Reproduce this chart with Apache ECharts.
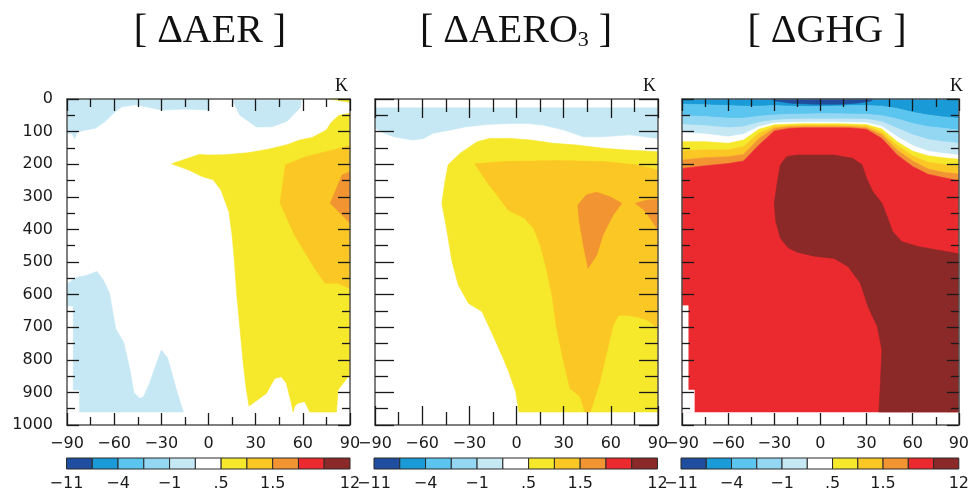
<!DOCTYPE html>
<html><head><meta charset="utf-8">
<script src="https://cdn.jsdelivr.net/npm/echarts@6/dist/echarts.min.js"></script>
<style>html,body{margin:0;padding:0;background:#fff}#c{width:972px;height:492px}</style>
</head><body><div id="c"></div>
<script>
// ---------- colour classes (colour-bar order) ----------
const classColors = ['#1f4e9e','#1a9ad6','#5cc5ef','#93d7f3','#c6e8f4','#ffffff','#f6e82a','#fbc724','#f19431','#eb2a2f','#8a2927'];
const colorbarClasses = [0,1,2,3,4,5,6,7,8,9,10];
const colorbarLabels = {0:'\u221211', 2:'\u22124', 4:'\u22121', 6:'.5', 8:'1.5', 11:'12'};
const panelTitles = ['[ \u0394AER ]', '[ \u0394AERO', '[ \u0394GHG ]'];
const unitLabel = 'K';

// ---------- [ΔAER] contour regions: [latitude, hPa] ----------
const aerBlueUpper = [[-90,0],[0.5,0],[0.5,34],[-15,31],[-29.5,34],[-40,24],[-46.5,18],[-55,24],[-58,34],[-61.5,49],[-66,70],[-72,90],[-78,95],[-83.5,102],[-85,121],[-87,105],[-90,105]];
const aerBlueUpperNH = [[16,4],[59,4],[58.5,26],[50,68],[40.5,85],[30.5,86],[20,50],[16,12]];
const aerYellowCap = [[76.5,0],[90,0],[90,10]];
const aerYellow = [[90,44],[83,50],[78,72],[75,95],[66,118],[58,126],[50,140],[38,154],[25,165],[10,171],[0,172],[-6,170],[-23.5,199],[-12.5,218],[-4,238],[3,248],[8,280],[13,346],[15,417],[16.5,499],[18,601],[20,703],[22,806],[24,890],[25.8,942],[28.3,933],[36.8,903],[42.1,857],[46.4,852],[49.5,872],[52.7,933],[53.8,960],[54.8,943],[56.9,933],[61.2,928],[64.4,960],[81.4,960],[82.4,893],[90,844]];
const aerGold = [[90,143],[76,160],[62,177],[49,202],[45.5,318],[54.5,415],[61,468],[67,515],[74,565],[82,565],[90,581]];
const aerOrange = [[90,223],[85,233],[77.5,320],[90,381]];
const aerBlueLower = [[-90,568],[-85,549],[-77,540],[-71,529],[-67,555],[-63,595],[-59,705],[-54,746],[-50,830],[-47.5,900],[-44,918],[-41.5,915],[-37.5,872],[-33,810],[-30,770],[-26,795],[-20.5,890],[-16,960],[-82,960],[-82,893],[-86,893],[-86,635],[-90,635]];

// ---------- [ΔAERO3] contour regions ----------
const aero3Blue = [[-90,27],[90,27],[90,121],[72,110],[55,116],[42.5,116],[30,95],[17,80],[7,75],[-4,75],[-19,78],[-32,85],[-42,95],[-53,105],[-59,121],[-66,126],[-78,116],[-84,105],[-90,90]];
const aero3Yellow = [[-43.5,202],[-36,167],[-25,131],[-17,121],[-4,121],[9,126],[23.5,136],[38,141],[55,151],[68,156],[90,162],[90,960],[1.5,960],[-0.5,898],[-5,836],[-8.5,795],[-17,703],[-22,652],[-30.5,627],[-37,571],[-41,499],[-44.5,397],[-47.5,320],[-45.5,254]];
const aero3Gold = [[-26.5,199],[-7.5,192],[25.5,189],[55,192],[76.5,202],[90,218],[90,703],[83,678],[76.5,668],[70,663],[65,663],[61.5,693],[57,785],[53,867],[47,960],[43.5,960],[40.5,913],[34,888],[30,806],[25.5,703],[22.5,601],[19,519],[15,448],[11,397],[5,366],[-5.5,340],[-12.5,294],[-19,254]];
const aero3Orange1 = [[39,325],[44.5,294],[51,286],[59.5,300],[67,320],[61.5,356],[55,417],[51,479],[45.5,519],[42.5,448],[40,376]];
const aero3Orange2 = [[75.5,320],[83,310],[90,308],[90,402],[85,366],[81,340]];

// ---------- [ΔGHG] layered contours: pressure (hPa) of each class's upper edge ----------
const ghgLats = [-90,-75,-60,-50,-40,-30,-20,-10,0,10,20,30,40,50,60,70,80,90];
const ghgTop = [0,0,0,0,0,0,0,0,0,0,0,0,0,0,0,0,0,0];
const ghgS = [16,18,20,22,22,20,22,23,23,22,20,20,22,29,41,49,55,59];
const ghgL = [51,54,59,59,53,49,47,46,45,45,46,47,51,61,75,85,90,95];
const ghgP = [78,82,88,85,72,65,62,61,61,61,61,62,70,90,110,124,131,136];
const ghgW = [103,107,116,108,85,74,72,71,71,71,72,73,84,116,143,160,167,172];
const ghgY = [131,131,136,126,93,79,77,76,76,76,77,78,92,131,160,174,180,185];
const ghgG = [159,156,156,146,105,84,81,80,80,80,81,83,102,143,174,194,200,206];
const ghgO = [187,180,177,170,121,90,85,84,84,84,85,88,110,157,190,215,225,230];
const ghgR = [213,205,198,190,141,98,90,88,88,88,89,93,121,172,207,231,241,251];
const ghgBottom = [960,960,960,960,960,960,960,960,960,960,960,960,960,960,960,960,960,960];
const ghgNavy = [[-32,0],[34,0],[33,6],[25,12],[13,16],[-4,16],[-19,13],[-29,6]];
const ghgMaroon = [[-26,202],[-22,177],[-15,172],[9,172],[21,182],[27,202],[30,243],[34,284],[40,320],[43,356],[47,407],[53,438],[64,453],[76,463],[90,475],[90,960],[38,960],[39,872],[40,770],[37,698],[31,637],[26,565],[18,514],[9,489],[-4,482],[-15,470],[-21,456],[-26,427],[-29,376],[-30,320],[-28,254]];
const ghgMissing = [[-90,634],[-86,634],[-86,893],[-82,893],[-82,962],[-90,962]];

// polygon between two boundary curves of the layered GHG field
function band(upper, lower){
  const top = ghgLats.map((l,i)=>[l,upper[i]]);
  const bot = ghgLats.map((l,i)=>[l,lower[i]]).reverse();
  return top.concat(bot);
}

const panelLayers = [
  [{cls:4,pts:aerBlueUpper},{cls:4,pts:aerBlueUpperNH},{cls:6,pts:aerYellowCap},{cls:6,pts:aerYellow},{cls:7,pts:aerGold},{cls:8,pts:aerOrange},{cls:4,pts:aerBlueLower}],
  [{cls:4,pts:aero3Blue},{cls:6,pts:aero3Yellow},{cls:7,pts:aero3Gold},{cls:8,pts:aero3Orange1},{cls:8,pts:aero3Orange2}],
  [{cls:1,pts:band(ghgTop,ghgS)},{cls:2,pts:band(ghgS,ghgL)},{cls:3,pts:band(ghgL,ghgP)},{cls:4,pts:band(ghgP,ghgW)},{cls:5,pts:band(ghgW,ghgY)},
   {cls:6,pts:band(ghgY,ghgG)},{cls:7,pts:band(ghgG,ghgO)},{cls:8,pts:band(ghgO,ghgR)},{cls:9,pts:band(ghgR,ghgBottom)},
   {cls:10,pts:ghgMaroon},{cls:0,pts:ghgNavy},{cls:5,pts:ghgMissing}]
];

// ---------- layout ----------
const panelLeft = [67, 375, 682];
const panelWidth = 283, panelTop = 99, panelHeight = 326;
const tickLen = [[12,8],[19,13],[12,8]];
const cbLeft = [66.5, 374, 681], cbWidth = 283.5, cbTop = 458, cbHeight = 13;
const labelFont = {fontFamily:'DejaVu Sans', fontSize:16, color:'#1a1a1a'};
const tickStyle = {color:'#1a1a1a', width:1.3};
const fmtLat = v => v < 0 ? '\u2212' + Math.abs(v) : String(v);
const fmtP = v => String(v);

const grids = [], xAxes = [], yAxes = [], series = [];
const latScale = {type:'value', min:-90, max:90, interval:30};
const presScale = {type:'value', min:0, max:1000, interval:100, inverse:true};

function addSide(list, k, scale, pos, label, maj, mnr) {
  const base = Object.assign({gridIndex:k, position:pos, z:10, splitLine:{show:false}, minorSplitLine:{show:false}}, scale);
  const idx = list.length;
  // frame line + labels
  list.push(Object.assign({}, base, {
    axisLine:{show:true,onZero:false,lineStyle:{color:'#555555',width:1.5}},
    axisTick:{show:false}, minorTick:{show:false},
    axisLabel: label || {show:false}
  }));
  // major ticks pointing into the panel
  list.push(Object.assign({}, base, {
    offset:-maj, axisLine:{show:false,onZero:false},
    axisTick:{show:true,inside:false,length:maj,lineStyle:tickStyle},
    minorTick:{show:false}, axisLabel:{show:false}
  }));
  // minor ticks pointing into the panel
  list.push(Object.assign({}, base, {
    offset:-mnr, axisLine:{show:false,onZero:false},
    axisTick:{show:false},
    minorTick:{show:true,splitNumber:2,length:mnr,lineStyle:tickStyle},
    axisLabel:{show:false}
  }));
  return idx;
}

for (let k = 0; k < 3; k++) {
  grids.push({left:panelLeft[k], top:panelTop, width:panelWidth, height:panelHeight});
  const [maj, mnr] = tickLen[k];
  const xi = addSide(xAxes, k, latScale, 'bottom', Object.assign({show:true,margin:11,formatter:fmtLat}, labelFont), maj, mnr);
  addSide(xAxes, k, latScale, 'top', null, maj, mnr);
  const yi = addSide(yAxes, k, presScale, 'left', Object.assign({show:k===0,margin:14,formatter:fmtP}, labelFont), maj, mnr);
  addSide(yAxes, k, presScale, 'right', null, maj, mnr);
  const layers = panelLayers[k];
  series.push({
    type:'custom', xAxisIndex:xi, yAxisIndex:yi, silent:true, animation:false, z:2,
    encode:{x:0,y:1},
    data: layers.map((L,i)=>[L.pts[0][0], L.pts[0][1], i]),
    renderItem:(params, api) => {
      const L = layers[params.dataIndex];
      return {type:'polygon', shape:{points:L.pts.map(p=>api.coord(p))},
              style:{fill:classColors[L.cls], stroke:classColors[L.cls], lineWidth:0.6}};
    }
  });
}
for (let k = 0; k < 3; k++) {
  grids.push({left:cbLeft[k], top:cbTop, width:cbWidth, height:cbHeight});
  const xi = xAxes.length, yi = yAxes.length;
  xAxes.push({gridIndex:3+k,type:'value',min:0,max:11,interval:1,axisLine:{show:false,onZero:false},axisTick:{show:false},splitLine:{show:false},
    axisLabel:Object.assign({show:true,margin:7,formatter:v=>colorbarLabels[v]||''},labelFont)});
  yAxes.push({gridIndex:3+k,type:'value',min:0,max:1,show:false});
  series.push({
    type:'custom', xAxisIndex:xi, yAxisIndex:yi, silent:true, animation:false,
    encode:{x:0,y:1},
    data: colorbarClasses.map((c,i)=>[i,0,c]),
    renderItem:(params, api) => {
      const i = api.value(0), c = api.value(2);
      const a = api.coord([i,1]), b = api.coord([i+1,0]);
      return {type:'rect', shape:{x:a[0],y:a[1],width:b[0]-a[0],height:b[1]-a[1]},
              style:{fill:classColors[c], stroke:'#2a2a2a', lineWidth:1}};
    }
  });
}

const serif = '"Liberation Serif", "Times New Roman", serif';
const titleCenters = [210, 516, 827];
const graphic = [
  {type:'text', x:titleCenters[0], y:31, style:{text:panelTitles[0], font:'40px '+serif, fill:'#111', align:'center', verticalAlign:'middle'}},
  {type:'text', x:titleCenters[1], y:31, style:{text:'{a|'+panelTitles[1]+'}{s|3}{a| ]}', align:'center', verticalAlign:'middle',
     rich:{a:{fontSize:40, fontFamily:serif, fill:'#111'}, s:{fontSize:22, fontFamily:serif, fill:'#111', lineHeight:16, verticalAlign:'bottom'}}}},
  {type:'text', x:titleCenters[2], y:31, style:{text:panelTitles[2], font:'40px '+serif, fill:'#111', align:'center', verticalAlign:'middle'}},
];
for (let k = 0; k < 3; k++) {
  graphic.push({type:'text', x:panelLeft[k]+panelWidth-2, y:95, style:{text:unitLabel, font:'18px '+serif, fill:'#111', align:'right', verticalAlign:'bottom'}});
}

const chart = echarts.init(document.getElementById('c'), null, {renderer:'canvas'});
chart.setOption({animation:false, backgroundColor:'#ffffff', grid:grids, xAxis:xAxes, yAxis:yAxes, series:series, graphic:graphic});
</script></body></html>
